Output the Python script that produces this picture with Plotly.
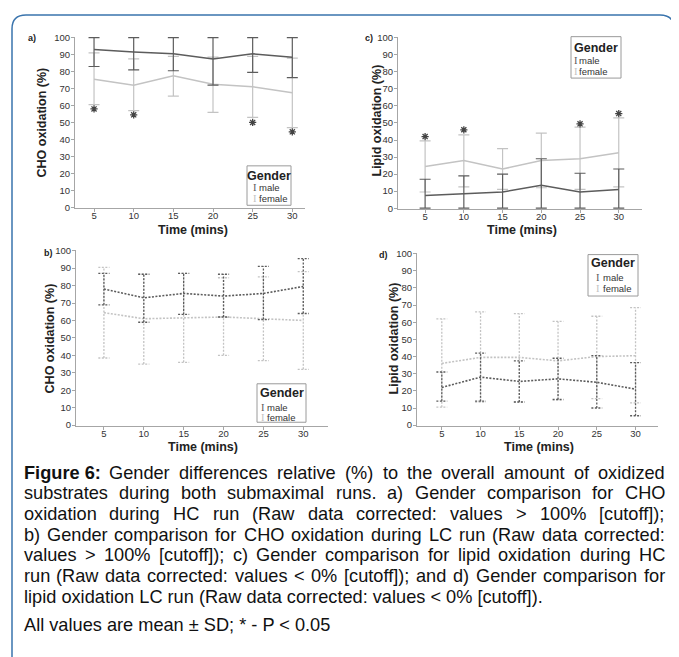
import plotly.graph_objects as go

# The page body has an 8px margin, so the figure is drawn at (8, 8) in the window.
OFF = 8
FIG_W, FIG_H = 679 - OFF, 657 - OFF

# ---------------- data ----------------
time_min = [5, 10, 15, 20, 25, 30]
x_tick_vals = [5, 10, 15, 20, 25, 30]
y_tick_vals = [0, 10, 20, 30, 40, 50, 60, 70, 80, 90, 100]

# a) CHO oxidation, HC run (solid)
a_male_mean = [93, 91.5, 90.5, 87.5, 90.5, 88.5]
a_male_lo = [83, 81, 80.5, 72, 79.5, 76.5]
a_male_hi = [100, 100, 100, 100, 100, 100]
a_female_mean = [75.5, 72, 77.5, 72.5, 71, 67.5]
a_female_lo = [60.5, 57, 65.5, 56, 53, 47]
a_female_hi = [91, 87.5, 89, 88.5, 89, 88]
a_sig_time = [5, 10, 25, 30]
a_sig_y = [58, 54.5, 50, 44.5]

# c) Lipid oxidation, HC run (solid)
c_male_mean = [7.5, 8.5, 9.5, 13.5, 9.5, 11]
c_male_lo = [0, 0, 0, 0, 0, 0]
c_male_hi = [17, 19, 20, 29, 20.5, 23]
c_female_mean = [24.5, 28, 23, 28, 29, 32.5]
c_female_lo = [9.5, 12.5, 11, 12, 11, 12.5]
c_female_hi = [39.5, 43, 35, 44, 47.5, 53]
c_sig_time = [5, 10, 25, 30]
c_sig_y = [42, 46, 49.5, 55.5]

# b) CHO oxidation, LC run (dotted)
b_male_mean = [78, 73, 75.5, 74, 75.5, 79.5]
b_male_lo = [69, 59, 63.5, 62, 60.5, 64]
b_male_hi = [87, 86.5, 87, 86.5, 91, 95.5]
b_female_mean = [64.5, 61, 61.5, 62, 61, 60]
b_female_lo = [38.5, 35, 36, 40, 37, 32]
b_female_hi = [90.5, 86.5, 87, 84.5, 85, 88]

# d) Lipid oxidation, LC run (dotted)
d_male_mean = [22, 28, 25.5, 27, 25, 21]
d_male_lo = [14, 14, 13.5, 15, 10, 5.5]
d_male_hi = [31, 42, 37.5, 39, 40.5, 36.5]
d_female_mean = [36, 39.5, 39.5, 37.5, 40, 40.5]
d_female_lo = [10.5, 13.5, 13.5, 14.5, 15.5, 13]
d_female_hi = [62, 66, 65, 60.5, 63.5, 68.5]

panel_letters = ["a)", "b)", "c)", "d)"]
y_titles = ["CHO oxidation (%)", "CHO oxidation (%)", "Lipid oxidation (%)", "Lipid oxidation (%)"]
x_title = "Time (mins)"
legend_title = "Gender"
legend_labels = ["male", "female"]

CAPTION_LINES = [
    "Figure 6: Gender differences relative (%) to the overall amount of oxidized",
    "substrates during both submaximal runs. a) Gender comparison for CHO",
    "oxidation during HC run (Raw data corrected: values > 100% [cutoff]);",
    "b) Gender comparison for CHO oxidation during LC run (Raw data corrected:",
    "values > 100% [cutoff]); c) Gender comparison for lipid oxidation during HC",
    "run (Raw data corrected: values < 0% [cutoff]); and d) Gender comparison for",
    "lipid oxidation LC run (Raw data corrected: values < 0% [cutoff]).",
]
NOTE = "All values are mean ± SD; * - P < 0.05"

# ---------------- style ----------------
MALE = "#5c5c5c"
FEMALE = "#c3c3c3"
AXIS = "#a6a6a6"
TXT = "#222222"
SANS = "Liberation Sans, Arial, sans-serif"
BORDER = "#3a74ad"


def px_x(p):
    return (p - OFF) / FIG_W


def px_y(p):
    return 1 - (p - OFF) / FIG_H


fig = go.Figure()

# panel geometry in window pixels: axis extent x0..x1, domain top/bottom, x range
panels = {
    "a": dict(n=1, x0=75, x1=305, yt=32, yb=206, xr=[2.6, 31.6]),
    "c": dict(n=2, x0=398, x1=642, yt=32, yb=207, xr=[1.5, 33.0]),
    "b": dict(n=3, x0=76, x1=328, yt=248, yb=427, xr=[1.5, 33.1]),
    "d": dict(n=4, x0=417, x1=658, yt=251, yb=427, xr=[1.8, 32.9]),
}

layout_axes = {}
for key, p in panels.items():
    n = p["n"]
    xa = "xaxis" if n == 1 else f"xaxis{n}"
    ya = "yaxis" if n == 1 else f"yaxis{n}"
    layout_axes[xa] = dict(
        domain=[px_x(p["x0"]), px_x(p["x1"])], range=p["xr"],
        anchor="y" if n == 1 else f"y{n}",
        tickvals=x_tick_vals, ticks="outside", ticklen=3, tickcolor=AXIS,
        showline=True, linecolor=AXIS, linewidth=1, showgrid=False, zeroline=False,
        tickfont=dict(family=SANS, size=9.5, color="#333"), ticklabelstandoff=-5,
    )
    layout_axes[ya] = dict(
        domain=[px_y(p["yb"]), px_y(p["yt"])], range=[-0.6, 100.6],
        anchor="x" if n == 1 else f"x{n}",
        tickvals=y_tick_vals, ticks="outside", ticklen=3, tickcolor=AXIS,
        showline=True, linecolor=AXIS, linewidth=1, showgrid=False, zeroline=False,
        tickfont=dict(family=SANS, size=9.5, color="#333"), ticklabelstandoff=-1,
    )


def axref(n):
    return ("x", "y") if n == 1 else (f"x{n}", f"y{n}")


def solid_series(n, mean, lo, hi, color):
    xr, yr = axref(n)
    fig.add_trace(go.Scatter(
        x=time_min, y=mean, mode="lines", xaxis=xr, yaxis=yr,
        line=dict(color=color, width=1.5), showlegend=False, cliponaxis=False,
        error_y=dict(type="data", symmetric=False,
                     array=[h - m for h, m in zip(hi, mean)],
                     arrayminus=[m - l for m, l in zip(mean, lo)],
                     color=color, thickness=1.2, width=5.5),
    ))


def dotted_series(n, mean, lo, hi, color, cap=0.7):
    xr, yr = axref(n)
    xs, ys = [], []
    for t, l, h in zip(time_min, lo, hi):
        xs += [t, t, None, t - cap, t + cap, None, t - cap, t + cap, None]
        ys += [l, h, None, h, h, None, l, l, None]
    fig.add_trace(go.Scatter(
        x=xs, y=ys, mode="lines", xaxis=xr, yaxis=yr, connectgaps=False,
        line=dict(color=color, width=1.3, dash="2px,1.5px"), showlegend=False,
    ))
    fig.add_trace(go.Scatter(
        x=time_min, y=mean, mode="lines", xaxis=xr, yaxis=yr,
        line=dict(color=color, width=1.6, dash="2px,1.5px"), showlegend=False,
    ))


def stars(n, tx, ty):
    xr, yr = axref(n)
    fig.add_trace(go.Scatter(
        x=tx, y=ty, mode="markers", xaxis=xr, yaxis=yr, showlegend=False,
        cliponaxis=False,
        marker=dict(symbol="asterisk-open", size=6, color="#444",
                    line=dict(color="#444", width=1.3)),
    ))


solid_series(1, a_female_mean, a_female_lo, a_female_hi, FEMALE)
solid_series(1, a_male_mean, a_male_lo, a_male_hi, MALE)
stars(1, a_sig_time, a_sig_y)

solid_series(2, c_female_mean, c_female_lo, c_female_hi, FEMALE)
solid_series(2, c_male_mean, c_male_lo, c_male_hi, MALE)
stars(2, c_sig_time, c_sig_y)

dotted_series(3, b_female_mean, b_female_lo, b_female_hi, FEMALE)
dotted_series(3, b_male_mean, b_male_lo, b_male_hi, MALE)

dotted_series(4, d_female_mean, d_female_lo, d_female_hi, FEMALE)
dotted_series(4, d_male_mean, d_male_lo, d_male_hi, MALE)

annotations = []
shapes = []


def ann(x, y, text, size, color=TXT, xanchor="center", yanchor="middle", angle=0, family=SANS):
    annotations.append(dict(
        x=px_x(x), y=px_y(y), xref="paper", yref="paper", text=text, showarrow=False,
        xanchor=xanchor, yanchor=yanchor, textangle=angle, borderpad=0, borderwidth=0,
        font=dict(family=family, size=size, color=color),
    ))


# panel letters
for lab, (x, y) in zip(panel_letters, [(32, 33), (48, 251), (369, 33), (383, 253)]):
    ann(x, y, f"<b>{lab}</b>", 9)

# y-axis titles
for t, (x, y) in zip(y_titles, [(42, 119), (50, 338), (377, 117), (394, 338)]):
    ann(x, y, f"<b>{t}</b>", 12.5, angle=-90)

# x-axis titles
for (x, y) in [(193, 228), (203, 448), (522, 228), (539, 448)]:
    ann(x, y, f"<b>{x_title}</b>", 12.5)

# legends: box (x0,y0,x1,y1), title y, symbol x, text x, male y, female y
legends = [
    dict(box=(247, 163, 291, 203), ty=173, sx=255, tx=259, my=185, fy=196),
    dict(box=(571, 32, 621, 74), ty=43, sx=576, tx=579, my=56, fy=67),
    dict(box=(257, 384, 306, 423), ty=393, sx=263, tx=267, my=408, fy=418),
    dict(box=(588, 253, 638, 295), ty=262, sx=598, tx=603, my=276, fy=287),
]
for lg in legends:
    x0, y0, x1, y1 = lg["box"]
    shapes.append(dict(type="rect", xref="paper", yref="paper",
                       x0=px_x(x0), x1=px_x(x1), y0=px_y(y1), y1=px_y(y0),
                       line=dict(color="#9a9a9a", width=1), fillcolor="white", layer="above"))
    ann((x0 + x1) / 2, lg["ty"], f"<b>{legend_title}</b>", 12.5)
    ann(lg["sx"], lg["my"], "I", 10.5, color=MALE, family="Liberation Serif, serif")
    ann(lg["sx"], lg["fy"], "I", 10.5, color=FEMALE, family="Liberation Serif, serif")
    ann(lg["tx"], lg["my"], legend_labels[0], 9.5, color="#333", xanchor="left")
    ann(lg["tx"], lg["fy"], legend_labels[1], 9.5, color="#333", xanchor="left")

# ---------------- caption (justified) ----------------
HELV = {
    " ": 278, "(": 333, ")": 333, "%": 889, ":": 278, ";": 278, ".": 278, ",": 278,
    "[": 278, "]": 278, "<": 584, ">": 584, "±": 584, "*": 389, "-": 333,
    "a": 556, "b": 556, "c": 500, "d": 556, "e": 556, "f": 278, "g": 556, "h": 556,
    "i": 222, "j": 222, "k": 500, "l": 222, "m": 833, "n": 556, "o": 556, "p": 556,
    "q": 556, "r": 333, "s": 500, "t": 278, "u": 556, "v": 500, "w": 722, "x": 500,
    "y": 500, "z": 500,
    "A": 667, "B": 667, "C": 722, "D": 722, "E": 667, "F": 611, "G": 778, "H": 722,
    "I": 278, "L": 556, "O": 778, "P": 667, "R": 722, "S": 667, "T": 611,
}
HELV_B = {"F": 611, "i": 278, "g": 611, "u": 611, "r": 389, "e": 556, " ": 278, "6": 556, ":": 333}
for dgt in "0123456789":
    HELV[dgt] = 556

CAP_FS = 18.2
CAP_L, CAP_R = 23.5, 665
line_y = [474, 495, 516, 537, 558, 579, 600]
note_y = 629


def esc(s):
    return s.replace("&", "&amp;").replace("<", "&lt;").replace(">", "&gt;")


def width(s, bold=False):
    tbl = HELV_B if bold else HELV
    return sum(tbl.get(ch, 556) for ch in s) / 1000 * CAP_FS


for i, line in enumerate(CAPTION_LINES):
    toks = line.split(" ")
    bolds = [False] * len(toks)
    if i == 0:
        toks = ["Figure 6:"] + toks[2:]
        bolds = [True] + [False] * (len(toks) - 1)
    if i == len(CAPTION_LINES) - 1:
        ann(CAP_L, line_y[i], esc(line), CAP_FS, color="#111", xanchor="left")
        continue
    ws = [width(t, b) for t, b in zip(toks, bolds)]
    gap = (CAP_R - CAP_L - sum(ws)) / (len(toks) - 1)
    x = CAP_L
    for t, b, w in zip(toks, bolds, ws):
        txt = f"<b>{esc(t)}</b>" if b else esc(t)
        ann(x, line_y[i], txt, CAP_FS, color="#111", xanchor="left")
        x += w + gap

ann(CAP_L, note_y, esc(NOTE), CAP_FS, color="#111", xanchor="left")

# rounded border (top corners), open at the bottom
r = 14
bx0, bx1, by0, by1 = 12, 674, 10, 670
path = (f"M {px_x(bx0)},{px_y(by1)} L {px_x(bx0)},{px_y(by0 + r)} "
        f"Q {px_x(bx0)},{px_y(by0)} {px_x(bx0 + r)},{px_y(by0)} "
        f"L {px_x(bx1 - r)},{px_y(by0)} "
        f"Q {px_x(bx1)},{px_y(by0)} {px_x(bx1)},{px_y(by0 + r)} "
        f"L {px_x(bx1)},{px_y(by1)}")
shapes.append(dict(type="path", xref="paper", yref="paper", path=path,
                   line=dict(color=BORDER, width=1.5), layer="above"))

fig.update_layout(
    width=FIG_W, height=FIG_H, autosize=False,
    margin=dict(l=0, r=0, t=0, b=0),
    paper_bgcolor="white", plot_bgcolor="white",
    showlegend=False, annotations=annotations, shapes=shapes,
    **layout_axes,
)

fig.write_html("out.html")
